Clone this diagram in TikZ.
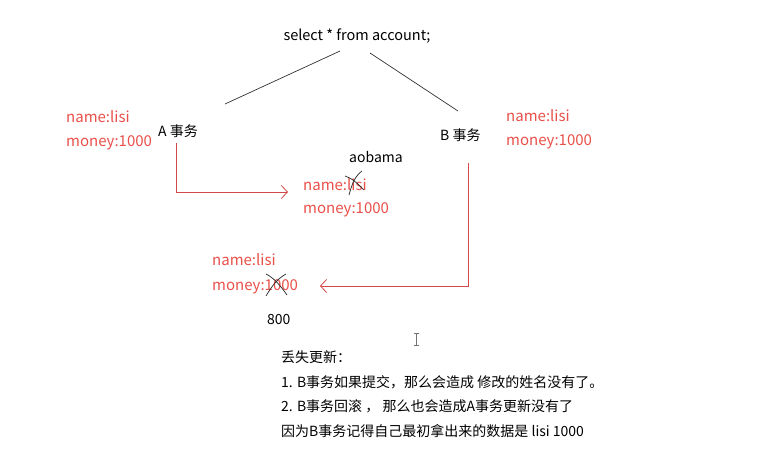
\documentclass[tikz,border=0pt]{standalone}
\usepackage{fontspec}
\setmainfont{Noto Sans CJK SC}
\usetikzlibrary{arrows.meta}
\definecolor{redtxt}{RGB}{234,80,74}
\definecolor{redline}{RGB}{214,72,72}
\begin{document}
\begin{tikzpicture}[x=1pt,y=-1pt,
  lbl/.style={inner sep=0pt,anchor=west,text depth=0pt,font=\fontsize{14}{16}\selectfont},
  redlbl/.style={lbl,text=redtxt,font=\fontsize{15}{17}\selectfont},
  thin line/.style={draw=black!80,line width=0.7pt},
  flow/.style={draw=redline,line width=0.9pt,-{Straight Barb[length=6pt,width=13pt,line width=0.8pt]}},
  cross/.style={draw=black!85,line width=0.7pt}]
\useasboundingbox[fill=white] (0,0) rectangle (773,459);

\node[lbl,anchor=center,font=\fontsize{14.5}{16}\selectfont] (sel) at (357,35) {select * from account;};
\coordinate (selL) at (340,51);
\coordinate (selR) at (370,53);
\coordinate (Atop) at (225,104);
\coordinate (Btop) at (458,111);
\draw[thin line] (selL) -- (Atop);
\draw[thin line] (selR) -- (Btop);

\node[lbl] (A) at (158,131) {A 事务};
\node[lbl] (B) at (440,135) {B 事务};

\node[redlbl] (an) at (66,117) {name:lisi};
\node[redlbl] (am) at (66,141) {money:1000};
\node[redlbl] (bn) at (506,116) {name:lisi};
\node[redlbl] (bm) at (506,140) {money:1000};

\node[lbl,anchor=center] (ob) at (376,157) {aobama};
\node[redlbl] (mn) at (303,185) {name:lisi};
\node[redlbl] (mm) at (303,208) {money:1000};

\node[redlbl] (ln) at (212,260) {name:lisi};
\node[redlbl] (lm) at (212,285) {money:1000};
\node[lbl] (e8) at (267,319) {800};

% flows
\coordinate (As) at (176,143);
\coordinate (Ac) at (176,192);
\coordinate (Ae) at (288,192);
\draw[flow] (As) -- (Ac) -- (Ae);
\coordinate (Bs) at (468,163);
\coordinate (Bc) at (468,286);
\coordinate (Be) at (320,286);
\draw[flow] (Bs) -- (Bc) -- (Be);

% cross marks
\draw[cross] (345,176) .. controls (352,178) and (358,184) .. (364,190);
\draw[cross] (362,171) .. controls (355,176) and (352,184) .. (349,195);
\draw[cross] (266,274) .. controls (274,278) and (280,285) .. (287,295);
\draw[cross] (286,274) .. controls (277,279) and (272,286) .. (266,296);

% text cursor
\draw[black!55,line width=0.6pt] (416,333) -- (416,345) (413.5,333) -- (418.5,333) (413.5,345) -- (418.5,345);

% explanation
\node[lbl] (t0) at (281,357) {丢失更新：};
\node[lbl] (t1) at (281,382) {1. B事务如果提交，那么会造成 修改的姓名没有了。};
\node[lbl] (t2) at (281,406) {2. B事务回滚 ， 那么也会造成A事务更新没有了};
\node[lbl] (t3) at (281,430) {因为B事务记得自己最初拿出来的数据是 lisi 1000};
\end{tikzpicture}
\end{document}
